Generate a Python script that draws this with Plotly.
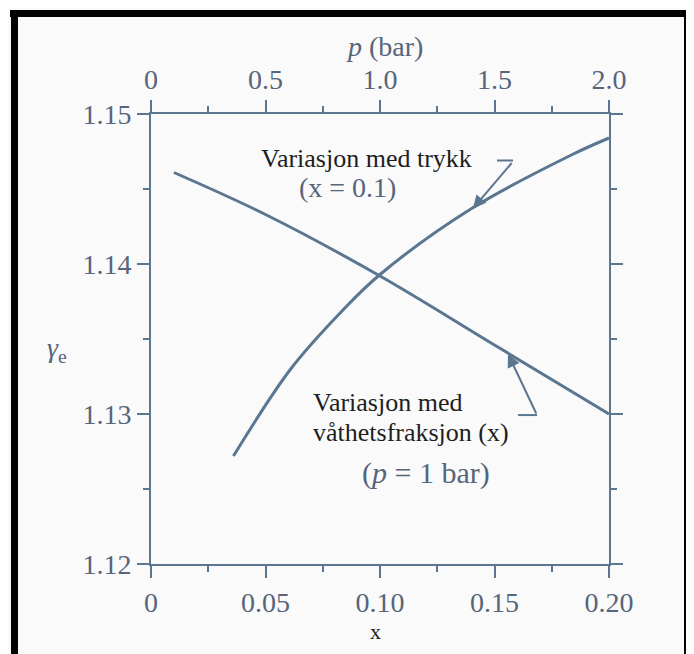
"""Likevektsverdi av gamma: variasjon med fuktighet (x) og trykk (p)."""

import plotly.graph_objects as go

# variasjon med våthetsfraksjon, p = 1 bar
x_frac = [0.01, 0.05, 0.10, 0.15, 0.20]
gamma_x = [1.1461, 1.1433, 1.1392, 1.1346, 1.1300]

# variasjon med trykk, x = 0.1
p_bar = [0.36, 0.61, 0.83, 1.0, 1.40, 1.84, 2.0]
gamma_p = [1.1272, 1.1330, 1.1368, 1.1393, 1.1437, 1.1473, 1.1484]

x_ticks = [0, 0.05, 0.10, 0.15, 0.20]
x_ticktext = ["0", "0.05", "0.10", "0.15", "0.20"]
p_ticks = [0, 0.5, 1.0, 1.5, 2.0]
p_ticktext = ["0", "0.5", "1.0", "1.5", "2.0"]
y_ticks = [1.12, 1.13, 1.14, 1.15]
y_ticktext = ["1.12", "1.13", "1.14", "1.15"]

LINE = "#5b7690"
TXT = "#56657a"
SERIF = "Liberation Serif"

fig = go.Figure()
fig.add_trace(go.Scatter(x=x_frac, y=gamma_x, mode="lines",
                         line=dict(color=LINE, width=3, shape="spline", smoothing=1.0),
                         showlegend=False, xaxis="x", yaxis="y"))
fig.add_trace(go.Scatter(x=p_bar, y=gamma_p, mode="lines",
                         line=dict(color=LINE, width=3, shape="spline", smoothing=1.0),
                         showlegend=False, xaxis="x2", yaxis="y"))

axis_common = dict(showgrid=False, zeroline=False, showline=True, linecolor=LINE, linewidth=2,
                   ticks="outside", ticklen=12, tickwidth=2, tickcolor=LINE,
                   tickfont=dict(family=SERIF, size=28, color=TXT))

# siden har 8 px marg rundt figuren
fig.update_layout(
    width=686, height=646,
    margin=dict(l=143, r=85, t=106, b=90),
    paper_bgcolor="#fafafb", plot_bgcolor="#fafafb",
    xaxis=dict(range=[0, 0.2], tickvals=x_ticks, ticktext=x_ticktext, mirror=False,
               minor=dict(tickvals=[0.025, 0.075, 0.125, 0.175], ticklen=6, tickwidth=2,
                          tickcolor=LINE, ticks="outside"),
               **axis_common),
    xaxis2=dict(range=[0, 2.0], tickvals=p_ticks, ticktext=p_ticktext, overlaying="x", side="top",
                anchor="y",
                minor=dict(tickvals=[0.25, 0.75, 1.25, 1.75], ticklen=6, tickwidth=2,
                           tickcolor=LINE, ticks="outside"),
                **axis_common),
    yaxis=dict(range=[1.12, 1.15], tickvals=y_ticks, ticktext=y_ticktext, mirror="ticks",
               minor=dict(tickvals=[1.125, 1.135, 1.145], ticklen=6, tickwidth=2,
                          tickcolor=LINE, ticks="outside"),
               **axis_common),
)


def label(text, x, y, size, color, xanchor="center"):
    fig.add_annotation(text=text, xref="paper", yref="paper", x=x, y=y, xanchor=xanchor,
                       yanchor="middle", showarrow=False,
                       font=dict(family=SERIF, size=size, color=color))


# tekster
label("<i>p</i> (bar)", 0.509, 1.151, 28, TXT)
label("x", 0.491, -0.151, 22, "#222222")
label("<i>γ</i><sub>e</sub>", -0.205, 0.476, 28, TXT)
label("Variasjon med trykk", 0.4716, 0.902, 26, "#1e1e1e")
label("(x = 0.1)", 0.428, 0.836, 28, TXT)
label("Variasjon med", 0.3493, 0.360, 26, "#1e1e1e", xanchor="left")
label("våthetsfraksjon (x)", 0.3493, 0.2933, 26, "#1e1e1e", xanchor="left")
label("(<i>p</i> = 1 bar)", 0.600, 0.202, 30, TXT)

# piler
fig.add_annotation(x=1.406, y=1.1437, xref="x2", yref="y", text="", showarrow=True,
                   ax=40, ay=-47, arrowhead=2, arrowsize=1.3, arrowwidth=2, arrowcolor=LINE)
fig.add_shape(type="line", xref="x2", yref="y", x0=1.511, x1=1.581, y0=1.1469, y1=1.1469,
              line=dict(color=LINE, width=2))
fig.add_annotation(x=0.1559, y=1.1340, xref="x", yref="y", text="", showarrow=True,
                   ax=29, ay=61, arrowhead=2, arrowsize=1.3, arrowwidth=2, arrowcolor=LINE)
fig.add_shape(type="line", xref="x", yref="y", x0=0.1603, x1=0.1686, y0=1.12993, y1=1.12993,
              line=dict(color=LINE, width=2))

# svart ramme fra skanningen
for x0, x1, y0, y1 in [(-0.3079, 1.2, 1.2156, 1.2311), (-0.3057, -0.2904, -0.21, 1.2311),
                       (1.1638, 1.2, -0.21, 1.2311)]:
    fig.add_shape(type="rect", xref="paper", yref="paper", x0=x0, x1=x1, y0=y0, y1=y1,
                  fillcolor="black", line=dict(width=0), layer="above")

fig.write_html("out.html")
